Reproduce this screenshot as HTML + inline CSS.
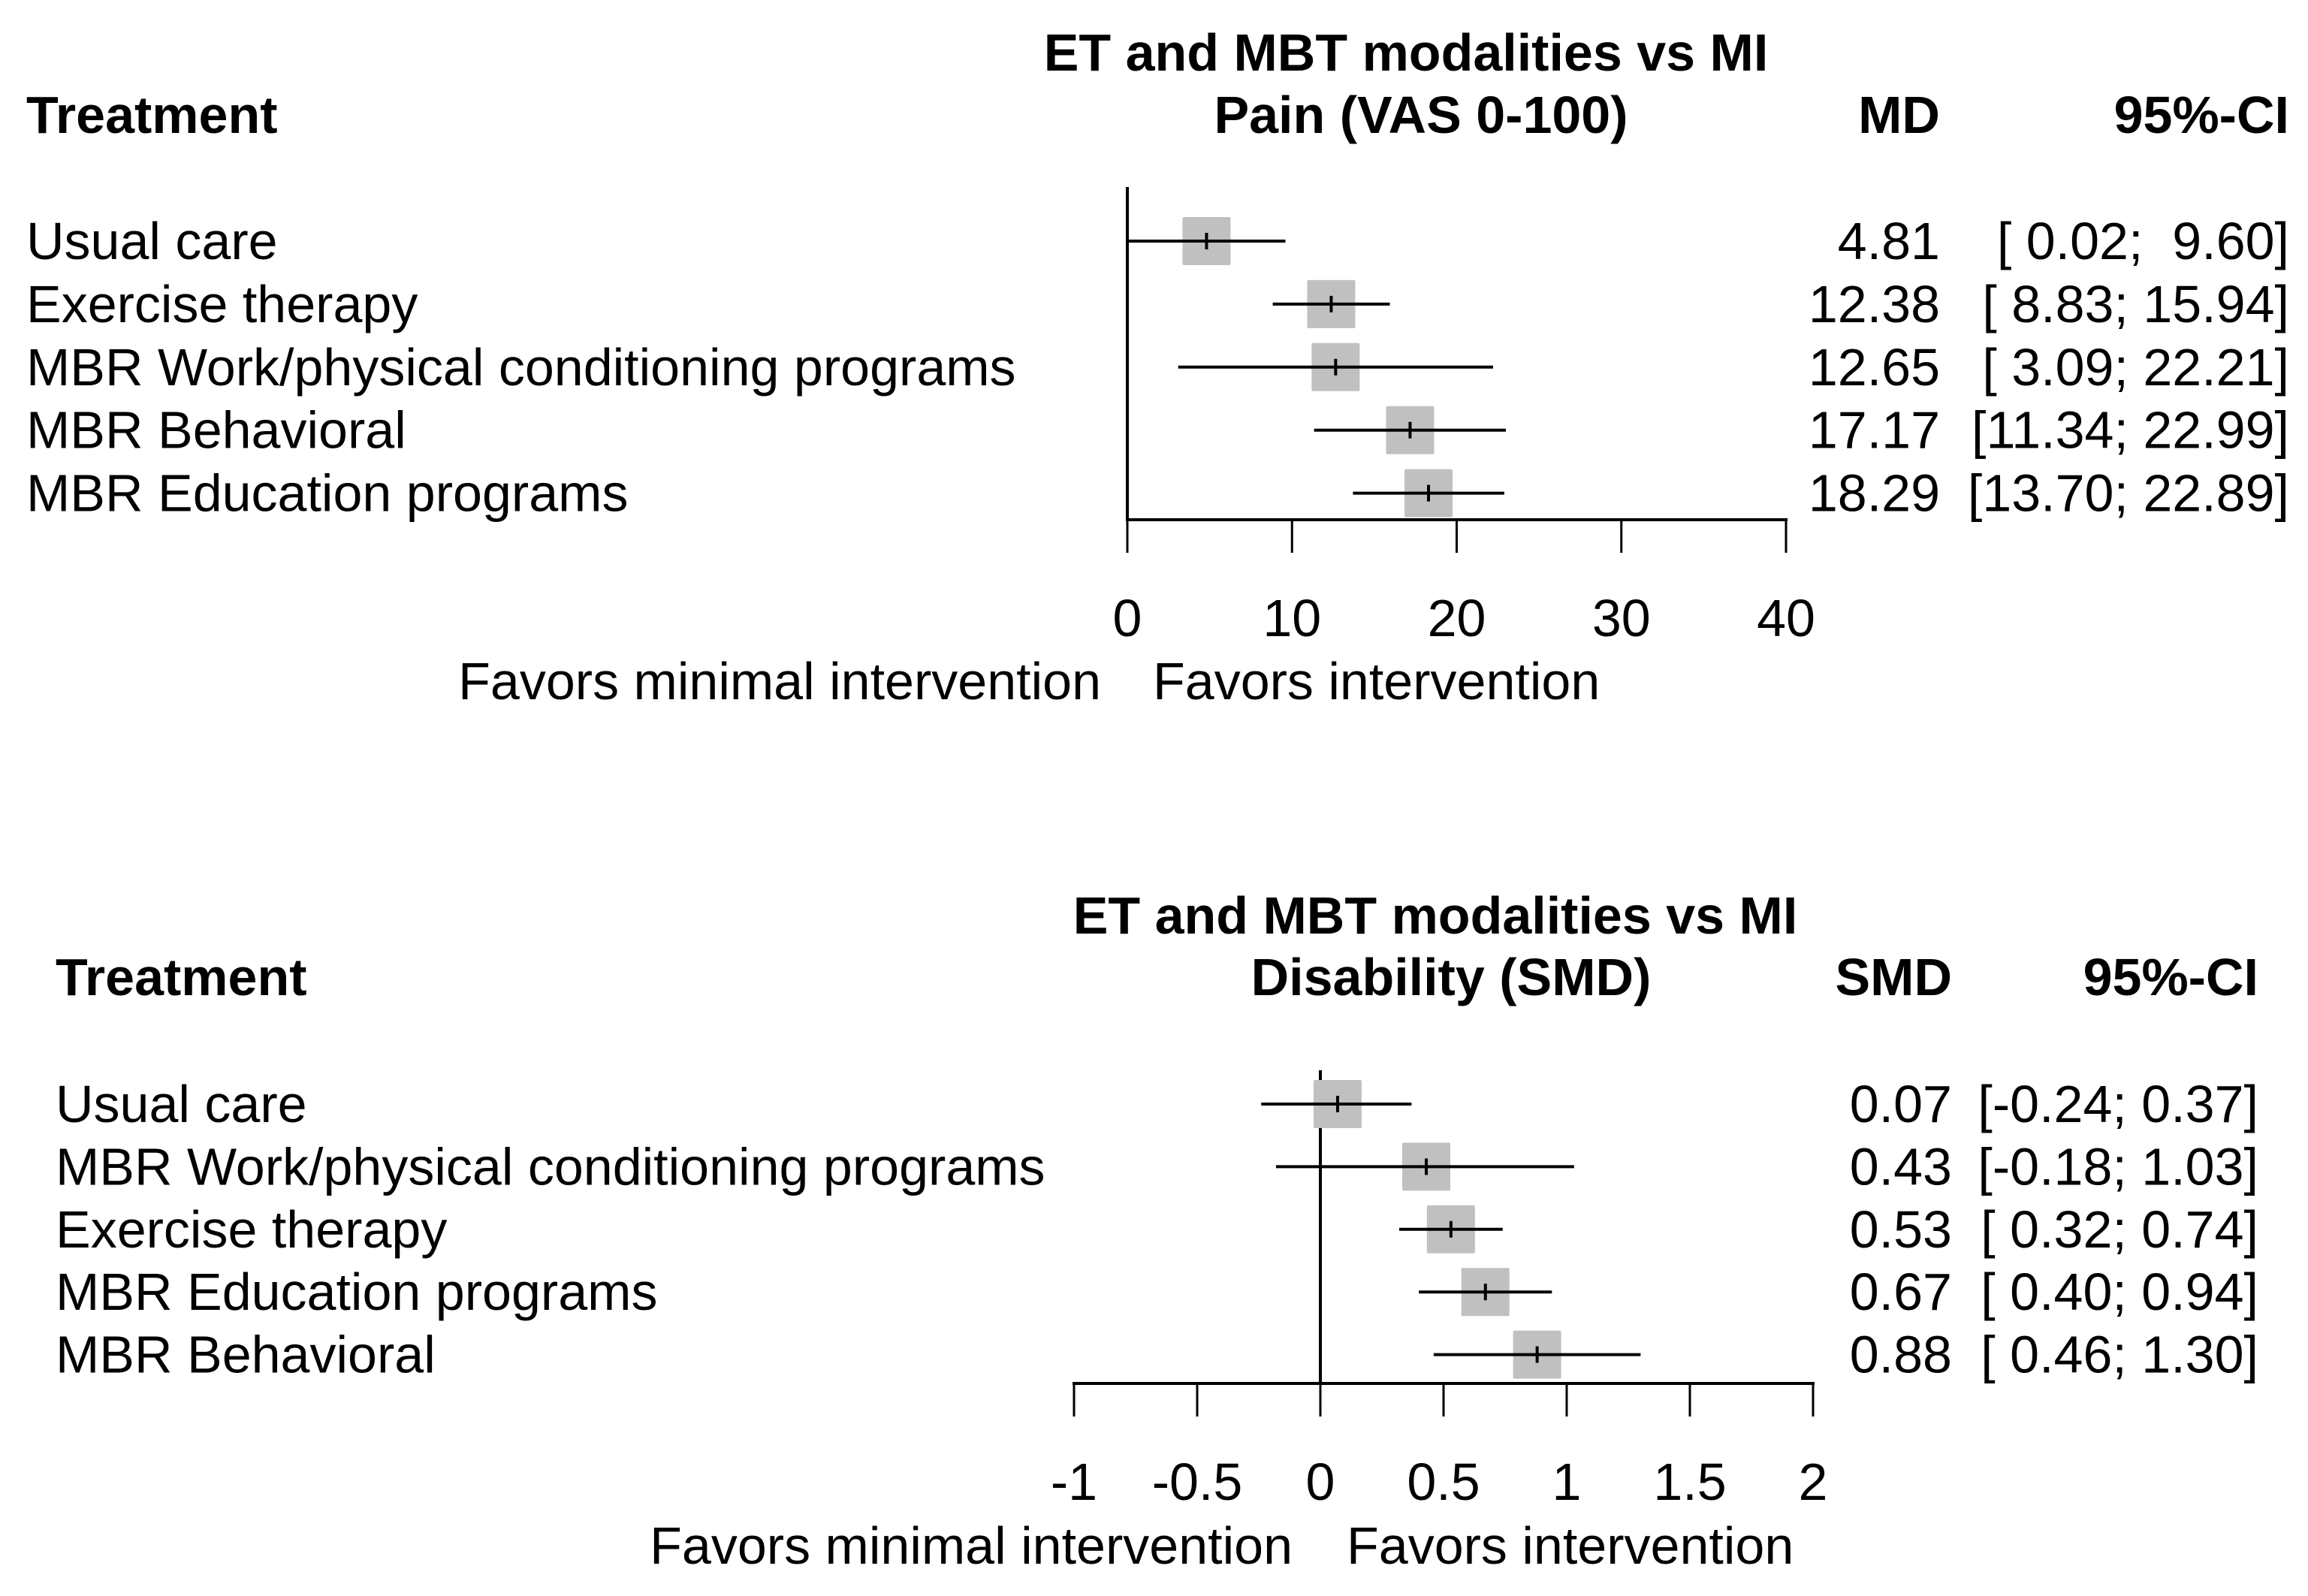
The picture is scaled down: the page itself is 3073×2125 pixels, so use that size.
<!DOCTYPE html>
<html><head><meta charset="utf-8"><style>
html,body{margin:0;padding:0;background:#fff;}
svg{display:block;font-family:"Liberation Sans",Arial,sans-serif;}
</style></head><body>
<svg id="c" width="3073" height="2125" viewBox="0 0 3073 2125" xmlns="http://www.w3.org/2000/svg">
<g font-size="70">
<text x="1872" y="94" text-anchor="middle" font-weight="bold">ET and MBT modalities vs MI</text>
<text x="1892" y="177" text-anchor="middle" font-weight="bold">Pain (VAS 0-100)</text>
<text x="35" y="177" font-weight="bold">Treatment</text>
<text x="2583" y="177" text-anchor="end" font-weight="bold">MD</text>
<text x="3048" y="177" text-anchor="end" font-weight="bold">95%-CI</text>
<g id="p1"></g>
<text x="1466" y="931" text-anchor="end">Favors minimal intervention</text>
<text x="1535" y="931">Favors intervention</text>
</g>
<g font-size="70">
<text x="1911" y="1243" text-anchor="middle" font-weight="bold">ET and MBT modalities vs MI</text>
<text x="1932" y="1325" text-anchor="middle" font-weight="bold">Disability (SMD)</text>
<text x="74" y="1325" font-weight="bold">Treatment</text>
<text x="2599" y="1325" text-anchor="end" font-weight="bold">SMD</text>
<text x="3007" y="1325" text-anchor="end" font-weight="bold">95%-CI</text>
<g id="p2"></g>
<text x="1721" y="2082" text-anchor="end">Favors minimal intervention</text>
<text x="1793" y="2082">Favors intervention</text>
</g>
</svg>
<script>
const painLabels = ["Usual care","Exercise therapy","MBR Work/physical conditioning programs","MBR Behavioral","MBR Education programs"];
const painEst = [4.81,12.38,12.65,17.17,18.29];
const painLo = [0.02,8.83,3.09,11.34,13.70];
const painHi = [9.60,15.94,22.21,22.99,22.89];
const painCI = ["[ 0.02;  9.60]","[ 8.83; 15.94]","[ 3.09; 22.21]","[11.34; 22.99]","[13.70; 22.89]"];
const painTicks = [0,10,20,30,40];
const painTickLabels = ["0","10","20","30","40"];

const disLabels = ["Usual care","MBR Work/physical conditioning programs","Exercise therapy","MBR Education programs","MBR Behavioral"];
const disEst = [0.07,0.43,0.53,0.67,0.88];
const disLo = [-0.24,-0.18,0.32,0.40,0.46];
const disHi = [0.37,1.03,0.74,0.94,1.30];
const disCI = ["[-0.24; 0.37]","[-0.18; 1.03]","[ 0.32; 0.74]","[ 0.40; 0.94]","[ 0.46; 1.30]"];
const disTicks = [-1,-0.5,0,0.5,1,1.5,2];
const disTickLabels = ["-1","-0.5","0","0.5","1","1.5","2"];

const NS="http://www.w3.org/2000/svg";
function mk(parent,tag,attrs,txt){const e=document.createElementNS(NS,tag);for(const k in attrs)e.setAttribute(k,attrs[k]);if(txt!==undefined)e.textContent=txt;parent.appendChild(e);return e;}

function draw(g,cfg){
  const sx=v=>cfg.x0+(v-cfg.d0)/(cfg.d1-cfg.d0)*(cfg.x1-cfg.x0);
  const rowY=i=>cfg.yTop+i*cfg.dy;
  const ref=mk(g,'line',{x1:sx(0),x2:sx(0),y1:cfg.refTop,y2:cfg.axisY,stroke:'#000','stroke-width':4});
  
  
  cfg.labels.forEach((lab,i)=>{
    const y=rowY(i);
    const t=mk(g,'text',{x:cfg.labelX,y:y+24},lab);
    
    
    const b=mk(g,'rect',{x:sx(cfg.est[i])-32,y:y-32,width:64,height:64,rx:2,fill:'#c0c0c0'});
    
    
    const w=mk(g,'line',{x1:sx(cfg.lo[i]),x2:sx(cfg.hi[i]),y1:y,y2:y,stroke:'#000','stroke-width':4});
    
    
    const m=mk(g,'line',{x1:sx(cfg.est[i]),x2:sx(cfg.est[i]),y1:y-11,y2:y+11,stroke:'#000','stroke-width':4});
    
    
    const v=mk(g,'text',{x:cfg.valX,y:y+24,'text-anchor':'end'},cfg.est[i].toFixed(2));
    
    
    const c=mk(g,'text',{x:cfg.ciX,y:y+24,'text-anchor':'end','xml:space':'preserve',style:'white-space:pre'},cfg.ci[i]);
    
    
  });
  const ax=mk(g,'line',{x1:sx(cfg.ticks[0])-2,x2:sx(cfg.ticks[cfg.ticks.length-1])+2,y1:cfg.axisY,y2:cfg.axisY,stroke:'#000','stroke-width':4});
  
  
  cfg.ticks.forEach((tv,i)=>{
    const tk=mk(g,'line',{x1:sx(tv),x2:sx(tv),y1:cfg.axisY,y2:cfg.axisY+44,stroke:'#000','stroke-width':3});
    
    
    const tl=mk(g,'text',{x:sx(tv),y:cfg.axisY+155,'text-anchor':'middle'},cfg.tickLabels[i]);
    
    
  });
}
draw(document.getElementById('p1'),{x0:1501,x1:2378,d0:0,d1:40,yTop:321,dy:83.9,refTop:249,axisY:692,labelX:35,valX:2583,ciX:3048,
  labels:painLabels,est:painEst,lo:painLo,hi:painHi,ci:painCI,ticks:painTicks,tickLabels:painTickLabels});
draw(document.getElementById('p2'),{x0:1430,x1:2414,d0:-1,d1:2,yTop:1470,dy:83.4,refTop:1425,axisY:1842,labelX:74,valX:2599,ciX:3007,
  labels:disLabels,est:disEst,lo:disLo,hi:disHi,ci:disCI,ticks:disTicks,tickLabels:disTickLabels});
</script>
</body></html>
